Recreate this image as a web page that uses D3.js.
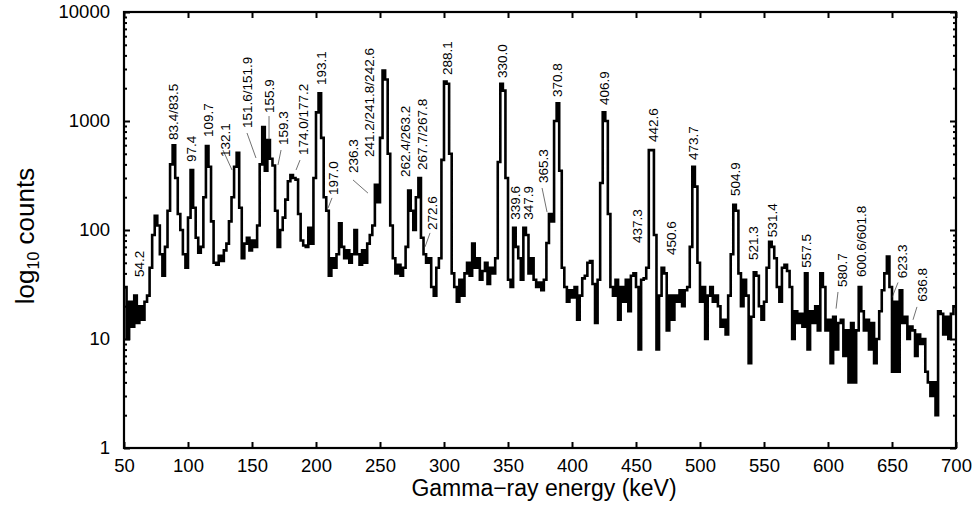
<!DOCTYPE html>
<html>
<head>
<meta charset="utf-8">
<script src="https://cdn.jsdelivr.net/npm/d3@7/dist/d3.min.js"></script>
<style>
  body { margin: 0; background: #fff; }
  svg { display: block; font-family: "Liberation Sans", Arial, Helvetica, sans-serif; }
</style>
</head>
<body>
<div id="chart"></div>
<script>
// spectrum, 2 keV bins starting at 50 keV
var binStart = 50, binWidth = 2;
var counts = [
  30, 10, 22, 13, 25, 14, 20, 15, 22, 25,
  45, 90, 135, 110, 60, 38, 70, 150, 400, 600,
  300, 140, 100, 60, 45, 130, 355, 160, 85, 62,
  70, 200, 590, 380, 120, 50, 48, 58, 52, 65,
  75, 120, 200, 380, 510, 160, 55, 75, 85, 65,
  80, 70, 110, 400, 880, 350, 670, 450, 390, 150,
  70, 100, 130, 190, 280, 320, 300, 290, 140, 80,
  72, 70, 105, 75, 300, 1200, 1800, 700, 200, 150,
  38, 55, 45, 60, 115, 70, 55, 65, 50, 60,
  100, 60, 48, 65, 50, 75, 90, 110, 260, 180,
  700, 2900, 2400, 500, 110, 55, 40, 48, 38, 45,
  70, 230, 150, 100, 200, 300, 85, 60, 50, 55,
  30, 25, 45, 55, 440, 2300, 2200, 500, 40, 30,
  22, 35, 25, 40, 50, 38, 75, 45, 55, 35,
  42, 50, 32, 45, 40, 55, 420, 2200, 1900, 300,
  35, 30, 105, 70, 55, 35, 105, 90, 40, 55,
  35, 30, 33, 28, 35, 76, 140, 120, 1000, 1450,
  350, 45, 30, 22, 28, 24, 30, 15, 25, 36,
  38, 50, 52, 32, 14, 35, 270, 1200, 1000, 140,
  30, 25, 35, 15, 30, 22, 35, 18, 38, 40,
  30, 8, 35, 36, 45, 540, 540, 90, 8, 25,
  45, 40, 12, 25, 15, 25, 22, 28, 20, 28,
  30, 70, 380, 250, 50, 22, 30, 10, 25, 30,
  22, 25, 20, 13, 15, 11, 25, 60, 170, 150,
  40, 20, 35, 25, 6, 16, 41, 38, 20, 15,
  22, 45, 78, 70, 55, 30, 22, 45, 48, 42,
  30, 10, 18, 14, 17, 13, 40, 8, 18, 14,
  20, 12, 40, 30, 12, 15, 6, 16, 8, 14,
  15, 7, 12, 4, 14, 4, 12, 30, 18, 12,
  15, 8, 14, 6, 10, 18, 28, 40, 57, 30,
  5, 22, 5, 28, 14, 16, 10, 13, 12, 7,
  11, 9, 10, 5, 4, 3, 4, 2, 18, 17,
  11, 16, 10, 17, 20
];

// peak labels: text, axis position, count at the foot of the text
var peakNames = ['54.2', '83.4/83.5', '97.4', '109.7', '132.1', '151.6/151.9', '155.9', '159.3',
  '174.0/177.2', '193.1', '197.0', '236.3', '241.2/241.8/242.6', '262.4/263.2', '267.7/267.8',
  '272.6', '288.1', '330.0', '339.6', '347.9', '365.3', '370.8', '406.9', '437.3', '442.6',
  '450.6', '473.7', '504.9', '521.3', '531.4', '557.5', '580.7', '600.6/601.8', '623.3', '636.8'];
var peakPos = [61.7, 88.3, 102.3, 115.6, 128.9, 146.1, 163.3, 174.2,
  189.8, 203.9, 213.3, 228.9, 241.4, 269.5, 282.8,
  290.6, 302.3, 345.3, 355.5, 365.6, 377.3, 388.3, 425, 450.8, 463.3,
  477.3, 494.5, 527.3, 541.4, 556.3, 582.8, 610.9, 625.8, 657.8, 673.4];
var peakFoot = [37, 670, 421, 713, 468, 862, 1184, 602,
  488, 2140, 209, 333, 468, 306, 355,
  100, 2640, 2480, 124, 124, 270, 1660, 1400, 76, 642,
  59, 438, 205, 53, 86, 45, 30, 37, 36, 22];

// leader lines from label to peak
var leaderFrom = [[127.3, 542], [146.1, 776], [163.3, 1110], [172.7, 542], [187.5, 438], [212.5, 197],
  [228.9, 288], [289.1, 94], [376.6, 243], [607.8, 27], [654.7, 33], [669.5, 19.7]];
var leaderTo = [[134.4, 355], [153.1, 458], [163.3, 670], [170.3, 395], [184.4, 355], [209.4, 159],
  [240.6, 218], [285.2, 70], [380.5, 146], [606.3, 19], [650, 24], [666.4, 15]];

var xTicks = [50, 100, 150, 200, 250, 300, 350, 400, 450, 500, 550, 600, 650, 700];
var yTicks = [1, 10, 100, 1000, 10000];
var xTitle = 'Gamma\u2212ray energy (keV)';

var width = 976, height = 508;
var plotL = 124, plotR = 956, plotT = 12, plotB = 448;

var svg = d3.select('#chart').append('svg')
    .attr('width', width)
    .attr('height', height);

var x = d3.scaleLinear().domain([50, 700]).range([plotL, plotR]);
var y = d3.scaleLog().domain([1, 10000]).range([plotB, plotT]);

var yMinor = [];
yTicks.slice(0, -1).forEach(function(d) {
  for (var k = 2; k < 10; k++) yMinor.push(d * k);
});

svg.append('defs').append('clipPath').attr('id', 'plot-clip')
  .append('rect')
    .attr('x', plotL).attr('y', plotT)
    .attr('width', plotR - plotL).attr('height', plotB - plotT);

// spectrum as a step line
var pts = counts.map(function(c, i) { return [binStart + i * binWidth, c]; });
pts.push([700, counts[counts.length - 1]]);

var line = d3.line()
    .x(function(d) { return x(d[0]); })
    .y(function(d) { return y(Math.max(1, d[1])); })
    .curve(d3.curveStepAfter);

svg.append('path')
    .datum(pts)
    .attr('clip-path', 'url(#plot-clip)')
    .attr('fill', 'none')
    .attr('stroke', '#000')
    .attr('stroke-width', 2.6)
    .attr('stroke-linejoin', 'miter')
    .attr('d', line);

// axes, ticks pointing inwards
var tickFont = 18.5;
function styleAxis(g) {
  g.select('.domain').remove();
  g.selectAll('.tick line').attr('stroke', '#000').attr('stroke-width', 2);
  g.selectAll('.tick text').attr('font-size', tickFont).attr('fill', '#000')
    .attr('font-family', '"Liberation Sans", Arial, sans-serif');
}

svg.append('g')
    .attr('transform', 'translate(0,' + plotB + ')')
    .call(d3.axisBottom(x).tickValues(xTicks).tickSize(-6).tickPadding(11).tickFormat(d3.format('d')))
    .call(styleAxis);

svg.append('g')
    .attr('transform', 'translate(0,' + plotT + ')')
    .call(d3.axisTop(x).tickValues(xTicks).tickSize(-6).tickFormat(''))
    .call(styleAxis);

svg.append('g')
    .attr('transform', 'translate(' + plotL + ',0)')
    .call(d3.axisLeft(y).tickValues(yTicks).tickSize(-6).tickPadding(14).tickFormat(d3.format('d')))
    .call(styleAxis);

svg.append('g')
    .attr('transform', 'translate(' + plotL + ',0)')
    .call(d3.axisLeft(y).tickValues(yMinor).tickSize(-3).tickFormat(''))
    .call(styleAxis);

svg.append('g')
    .attr('transform', 'translate(' + plotR + ',0)')
    .call(d3.axisRight(y).tickValues(yTicks).tickSize(-6).tickFormat(''))
    .call(styleAxis);

svg.append('g')
    .attr('transform', 'translate(' + plotR + ',0)')
    .call(d3.axisRight(y).tickValues(yMinor).tickSize(-3).tickFormat(''))
    .call(styleAxis);

svg.append('rect')
    .attr('x', plotL).attr('y', plotT)
    .attr('width', plotR - plotL).attr('height', plotB - plotT)
    .attr('fill', 'none')
    .attr('stroke', '#000')
    .attr('stroke-width', 2.2);

// leader lines
svg.append('g').selectAll('line')
  .data(leaderFrom)
  .enter().append('line')
    .attr('x1', function(d) { return x(d[0]); })
    .attr('y1', function(d) { return y(d[1]); })
    .attr('x2', function(d, i) { return x(leaderTo[i][0]); })
    .attr('y2', function(d, i) { return y(leaderTo[i][1]); })
    .attr('stroke', '#333')
    .attr('stroke-width', 0.7);

// peak labels
svg.append('g').selectAll('text')
  .data(peakNames)
  .enter().append('text')
    .attr('transform', function(d, i) {
      return 'translate(' + x(peakPos[i]) + ',' + y(peakFoot[i]) + ') rotate(-90)';
    })
    .attr('dy', '0.35em')
    .attr('font-size', 13.5)
    .attr('fill', '#000')
    .text(function(d) { return d; });

// axis titles
svg.append('text')
    .attr('x', (plotL + plotR) / 2 + 4)
    .attr('y', 496)
    .attr('text-anchor', 'middle')
    .attr('font-size', 23)
    .text(xTitle);

var yt = svg.append('text')
    .attr('transform', 'translate(34,236) rotate(-90)')
    .attr('text-anchor', 'middle')
    .attr('font-size', 26);
yt.append('tspan').text('log');
yt.append('tspan').attr('font-size', 16).attr('dy', 5).text('10');
yt.append('tspan').attr('dy', -5).text(' counts');
</script>
</body>
</html>
